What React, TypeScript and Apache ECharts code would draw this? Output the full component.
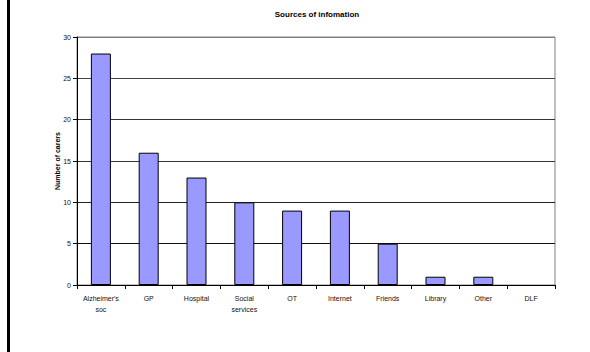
import React, { useEffect, useRef } from "react";
import * as echarts from "echarts";

const categories = [
  "Alzheimer's\nsoc",
  "GP",
  "Hospital",
  "Social\nservices",
  "OT",
  "Internet",
  "Friends",
  "Library",
  "Other",
  "DLF",
];
const carers = [28, 16, 13, 10, 9, 9, 5, 1, 1, 0];
const yTicks = { min: 0, max: 30, interval: 5 };

export default function App() {
  const ref = useRef<HTMLDivElement>(null);
  useEffect(() => {
    document.body.style.margin = "0";
    const chart = echarts.init(ref.current!, null, { renderer: "svg" });
    const font = "Liberation Sans, Arial, sans-serif";
    chart.setOption({
      animation: false,
      backgroundColor: "#fff",
      title: {
        text: "Sources of infomation",
        left: 312,
        textAlign: "center",
        top: 5,
        textStyle: { fontSize: 8, fontWeight: "bold", color: "#000", fontFamily: font },
      },
      graphic: [
        {
          type: "rect",
          shape: { x: 7, y: 0, width: 3, height: 352 },
          style: { fill: "#000" },
        },
      ],
      grid: {
        left: 77,
        right: 35,
        top: 37,
        bottom: 67,
        show: true,
        borderColor: "#808080",
        borderWidth: 1,
        backgroundColor: "#fff",
      },
      xAxis: {
        type: "category",
        data: categories,
        axisLine: { lineStyle: { color: "#000", width: 1 } },
        axisTick: { show: true, length: 4, lineStyle: { color: "#000" } },
        axisLabel: {
          fontSize: 7,
          color: "#111",
          fontFamily: font,
          interval: 0,
          margin: 8,
          lineHeight: 11,
        },
      },
      yAxis: {
        type: "value",
        min: yTicks.min,
        max: yTicks.max,
        interval: yTicks.interval,
        name: "Number of carers",
        nameLocation: "middle",
        nameGap: 16,
        nameMoveOverlap: false,
        nameRotate: 90,
        nameTextStyle: { fontSize: 7, fontWeight: "bold", color: "#000", fontFamily: font },
        axisLine: { show: true, lineStyle: { color: "#000", width: 1 } },
        axisTick: { show: true, length: 4, lineStyle: { color: "#000" } },
        axisLabel: { fontSize: 7, color: "#111", fontFamily: font, margin: 6 },
        splitLine: {
          show: true,
          lineStyle: {
            color: ["#000", "#111", "#222", "#333", "#333", "#444", "#808080"],
            width: 1,
          },
        },
      },
      series: [
        {
          type: "bar",
          data: carers.map((v) => ({
            value: v,
            itemStyle: { borderWidth: v === 0 ? 0 : 1 },
          })),
          barWidth: 20,
          itemStyle: { color: "#9999FF", borderColor: "#000", borderWidth: 1 },
        },
      ],
    });
    return () => chart.dispose();
  }, []);
  return <div ref={ref} style={{ width: 590, height: 352 }} />;
}
